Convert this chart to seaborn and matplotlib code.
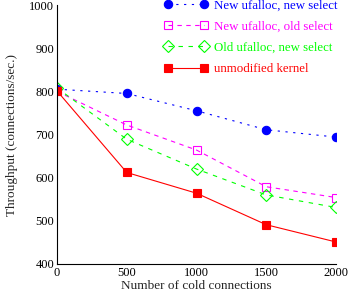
import matplotlib
matplotlib.use("Agg")
import matplotlib.pyplot as plt
import seaborn as sns
import pandas as pd

x_values = [0, 500, 1000, 1500, 2000]
new_new = [805, 795, 755, 711, 694]
new_old = [800, 722, 664, 579, 554]
old_new = [808, 689, 620, 560, 531]
unmodified = [801, 612, 564, 491, 451]

labels = ["New ufalloc, new select", "New ufalloc, old select",
          "Old ufalloc, new select", "unmodified kernel"]

sns.set_style("white")
plt.rcParams['font.family'] = ['Liberation Serif', 'DejaVu Serif']

fig = plt.figure(figsize=(3.49, 2.96), dpi=100)
ax = fig.add_axes([57/349, 32/296, (336-57)/349, (264-5)/296])

styles = [
    dict(color="#0000ff", marker="o", markersize=6, markerfacecolor="#0000ff",
         markeredgecolor="#0000ff", linestyle=(0, (2, 5))),
    dict(color="#ff00ff", marker="s", markersize=6, markerfacecolor="none",
         markeredgecolor="#ff00ff", linestyle=(0, (4, 4))),
    dict(color="#00ff00", marker="D", markersize=6, markerfacecolor="none",
         markeredgecolor="#00ff00", linestyle=(0, (4, 5))),
    dict(color="#ff0000", marker="s", markersize=6, markerfacecolor="#ff0000",
         markeredgecolor="#ff0000", linestyle="-"),
]
series = [new_new, new_old, old_new, unmodified]

for ys, lab, st in zip(series, labels, styles):
    df = pd.DataFrame({"x": x_values, "y": ys})
    sns.lineplot(data=df, x="x", y="y", ax=ax, label=lab, linewidth=0.8,
                 markeredgewidth=0.8, **st)

ax.set_xlim(0, 2000)
ax.set_ylim(400, 1000)
ax.set_xticks([0, 500, 1000, 1500, 2000])
ax.set_yticks([400, 500, 600, 700, 800, 900, 1000])
ax.tick_params(direction="in", length=4, width=0.8, labelsize=9, pad=2,
               colors="black")
for s in ["top", "right"]:
    ax.spines[s].set_visible(False)
for s in ["left", "bottom"]:
    ax.spines[s].set_color("black")
    ax.spines[s].set_linewidth(0.8)
ax.set_xlabel("Number of cold connections", fontsize=9.5, labelpad=1)
ax.set_ylabel("Throughput (connections/sec.)", fontsize=9.5, labelpad=8)

leg = ax.legend(loc="upper right", frameon=False, fontsize=9.3, numpoints=2,
                handlelength=3.4, labelcolor="linecolor",
                bbox_to_anchor=(1.048, 1.065), labelspacing=0.7,
                handletextpad=0.5)
fig.savefig("out.png", dpi=100)
